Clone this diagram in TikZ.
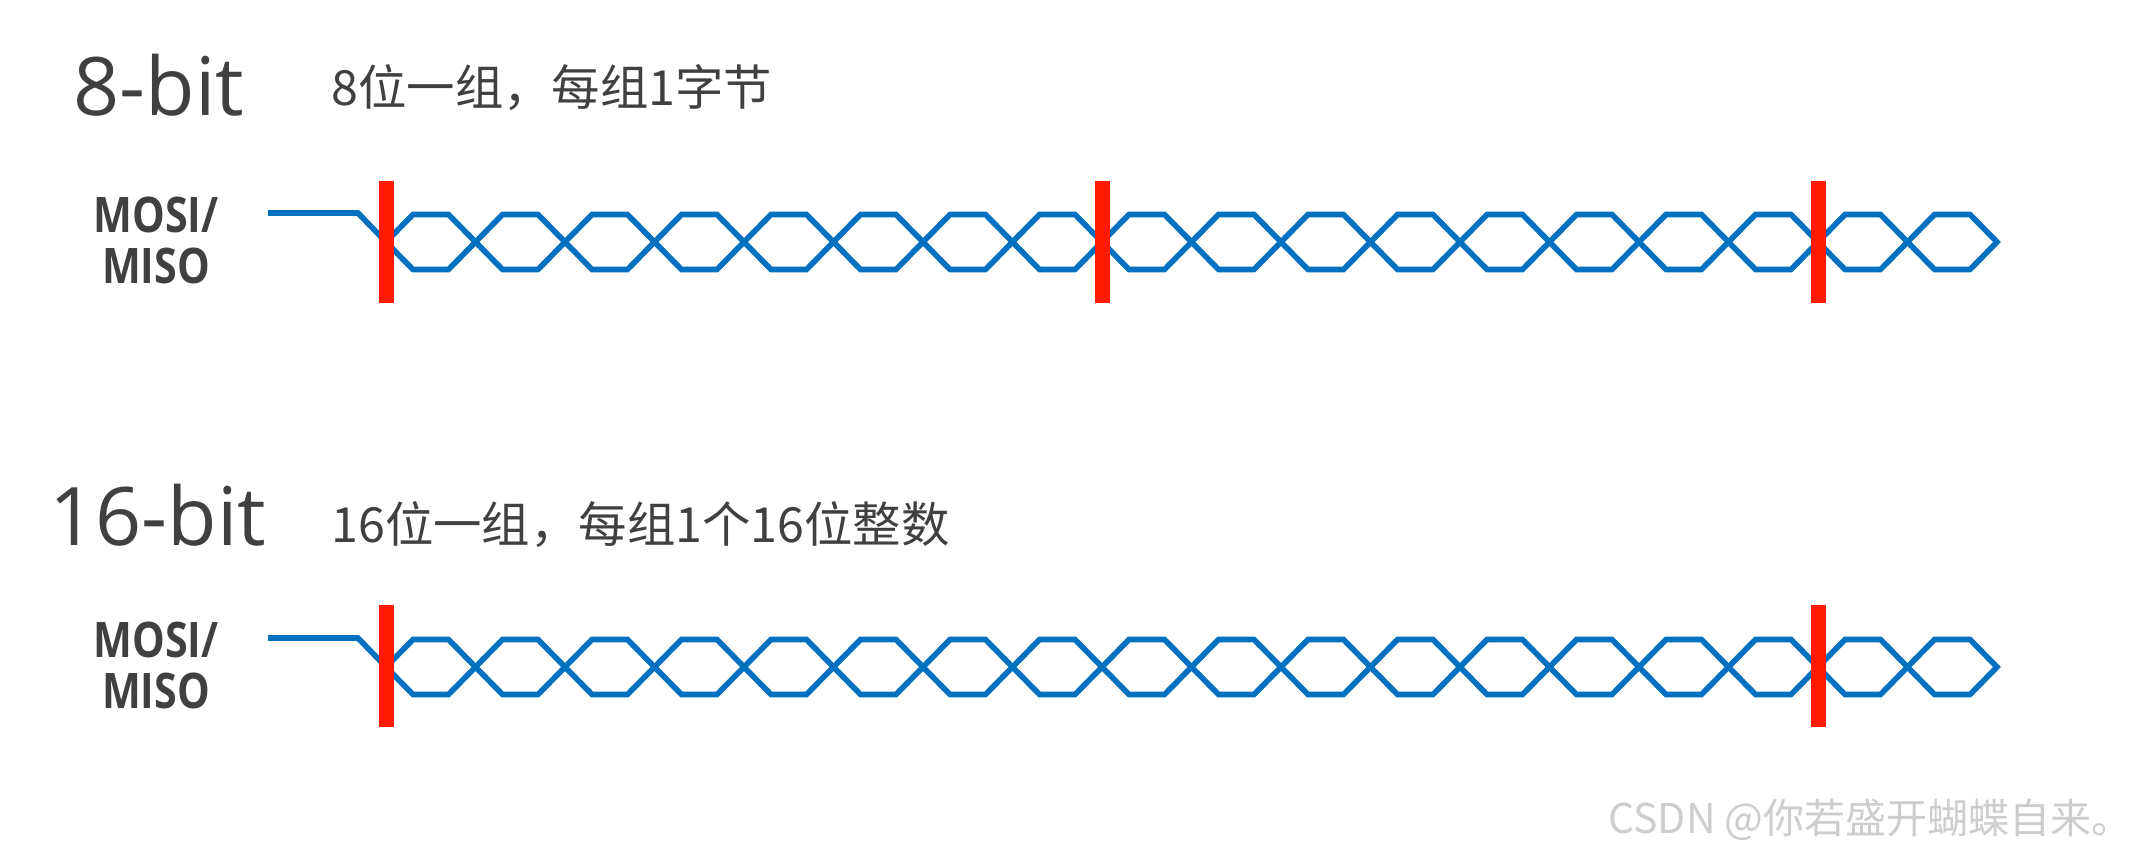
\documentclass[tikz,border=0pt]{standalone}
\usepackage{fontspec}
\setmainfont{Open Sans}
\newfontfamily\cjk{Noto Sans CJK SC}
\newfontfamily\sigfont{Open Sans}[FakeStretch=0.84]
\usepackage{tikz}
\usepackage{xcolor}
\definecolor{wireblue}{RGB}{0,112,192}
\definecolor{markred}{RGB}{255,26,0}
\definecolor{textgray}{RGB}{64,64,64}
\definecolor{wmgray}{RGB}{205,205,205}

\begin{document}
\begin{tikzpicture}[x=0.5pt,y=-0.5pt,
    wave/.style={wireblue,line width=2.8pt,line join=miter},
    bytebar/.style={markred,line width=7.5pt},
    title/.style={textgray,inner sep=0pt,anchor=base west,font=\fontsize{40.4}{42}\selectfont},
    note/.style={textgray,inner sep=0pt,anchor=base west,font=\cjk\fontsize{24.2}{28}\selectfont},
    signal/.style={textgray,inner sep=0pt,align=center,anchor=base,font=\sigfont\bfseries\fontsize{24.5}{25.5}\selectfont},
    watermark/.style={wmgray,inner sep=0pt,anchor=base west,font=\cjk\fontsize{20.5}{24}\selectfont}]
    \useasboundingbox (0,0) rectangle (2143,857);

    % Titles and notes
    \node[title] (bit8) at (73,115) {8-bit};
    \node[note] (desc8) at (331,105) {8位一组，每组1字节};
    \node[title] (bit16) at (49,545) {16-bit};
    \node[note] (desc16) at (331,542) {16位一组，每组1个16位整数};

    % Signal names (base = last line)
    \node[signal] (sig8) at (156,283) {MOSI/\\MISO};
    \node[signal] (sig16) at (156,708) {MOSI/\\MISO};

    % Data lines (18 bit cells per row)
    \foreach \row in {242,667} {
        \draw[wave] (268,\row-29) -- (358,\row-29) -- (386,\row);
        \foreach \k in {0,...,17}
            \draw[wave] ({386+\k*89.5},\row) -- ++(27,-27.5) -- ++(35.5,0)
                -- ++(27,27.5) -- ++(-27,27.5) -- ++(-35.5,0) -- cycle;
    }

    % Group boundaries
    \foreach \x in {386,1102,1818}
        \draw[bytebar] (\x,181) -- (\x,303);
    \foreach \x in {386,1818}
        \draw[bytebar] (\x,605) -- (\x,727);

    \node[watermark] (wm) at (1608,833) {CSDN @你若盛开蝴蝶自来。};
\end{tikzpicture}
\end{document}
